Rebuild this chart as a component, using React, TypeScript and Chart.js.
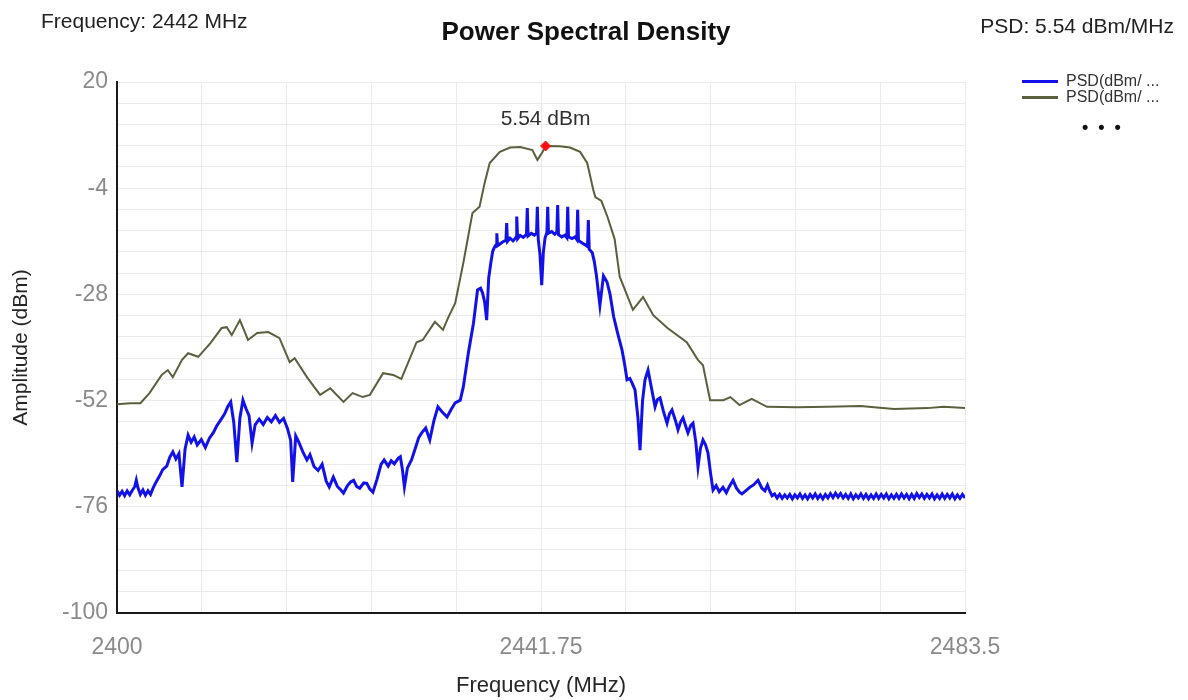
import React, { useEffect, useRef } from 'react';
import { Chart, registerables } from 'chart.js';

Chart.register(...registerables);

// ---- data (frequency MHz, PSD dBm) ----
const olivePsd: [number, number][] = [
  [2400.0, -52.8], [2401.3, -52.6], [2402.3, -52.6], [2403.2, -50.3], [2404.4, -46.2],
  [2405.0, -45.1], [2405.5, -46.7], [2406.4, -42.8], [2407.0, -41.3], [2408.0, -42.1],
  [2409.2, -39.0], [2410.3, -35.6], [2410.8, -35.4], [2411.3, -37.2], [2412.1, -33.8],
  [2412.9, -38.3], [2413.8, -36.7], [2414.9, -36.5], [2416.0, -37.9], [2417.0, -43.3],
  [2417.5, -42.4], [2418.7, -46.7], [2420.0, -50.7], [2421.0, -49.2], [2422.3, -52.3],
  [2423.2, -50.3], [2424.2, -51.2], [2424.9, -50.7], [2426.2, -45.8], [2427.2, -46.2],
  [2428.0, -47.1], [2429.5, -38.8], [2430.1, -38.3], [2431.3, -34.2], [2432.1, -36.0],
  [2432.6, -33.3], [2433.3, -30.0], [2434.1, -20.9], [2435.0, -9.6], [2435.7, -8.2],
  [2436.2, -2.8], [2436.7, 1.7], [2437.7, 4.2], [2438.7, 5.2], [2439.7, 5.3],
  [2440.9, 4.6], [2441.4, 2.4], [2441.9, 4.2], [2442.2, 5.54], [2443.6, 5.5],
  [2444.6, 5.2], [2445.6, 4.2], [2446.3, 1.7], [2446.9, -4.4], [2447.1, -6.0],
  [2447.7, -6.9], [2448.3, -10.5], [2449.0, -15.5], [2449.5, -24.0], [2450.8, -31.5],
  [2451.8, -28.6], [2452.8, -32.7], [2454.2, -35.6], [2456.1, -38.8], [2457.2, -42.8],
  [2457.7, -44.0], [2458.4, -51.9], [2459.7, -51.9], [2460.4, -51.2], [2461.3, -53.0],
  [2462.5, -51.6], [2464.0, -53.4], [2467.0, -53.5], [2470.0, -53.4], [2473.2, -53.2],
  [2476.5, -53.9], [2479.8, -53.7], [2481.4, -53.4], [2483.5, -53.7],
];

const bluePsd: [number, number][] = [
  [2400.0, -72.4], [2400.25, -73.4], [2400.5, -72.5], [2400.75, -73.5], [2401.0, -72.4],
  [2401.25, -73.3], [2401.5, -72.3], [2401.75, -71.4], [2401.9, -70.0], [2402.05, -71.6],
  [2402.3, -73.2], [2402.55, -72.2], [2402.8, -73.4], [2403.05, -72.4], [2403.3, -73.2],
  [2403.55, -71.8], [2403.8, -70.6], [2404.2, -69.0], [2404.5, -67.6], [2404.9, -66.8],
  [2405.2, -64.8], [2405.5, -63.6], [2405.8, -65.2], [2406.1, -64.0], [2406.4, -71.5],
  [2406.7, -63.0], [2407.0, -59.8], [2407.3, -61.4], [2407.6, -60.2], [2407.9, -62.0],
  [2408.3, -60.8], [2408.7, -62.6], [2409.1, -60.5], [2409.5, -59.2], [2409.8, -57.8],
  [2410.2, -56.4], [2410.6, -55.0], [2410.9, -53.4], [2411.2, -52.3], [2411.5, -57.0],
  [2411.8, -65.9], [2412.1, -56.0], [2412.4, -51.9], [2412.7, -53.8], [2413.0, -55.4],
  [2413.3, -61.6], [2413.6, -57.5], [2414.0, -56.2], [2414.4, -57.4], [2414.8, -55.8],
  [2415.2, -56.8], [2415.6, -55.4], [2416.0, -56.9], [2416.4, -56.0], [2416.8, -58.4],
  [2417.1, -61.0], [2417.3, -70.4], [2417.6, -60.0], [2417.9, -61.4], [2418.3, -63.6],
  [2418.7, -65.4], [2419.0, -64.2], [2419.4, -66.9], [2419.8, -67.8], [2420.2, -66.4],
  [2420.6, -70.2], [2420.9, -71.5], [2421.3, -69.3], [2421.7, -71.4], [2422.0, -72.1],
  [2422.3, -72.9], [2422.7, -71.2], [2423.0, -70.4], [2423.3, -70.0], [2423.6, -71.4],
  [2423.9, -71.8], [2424.3, -70.6], [2424.6, -70.7], [2424.9, -72.0], [2425.2, -72.7],
  [2425.6, -69.8], [2426.0, -66.4], [2426.3, -65.4], [2426.7, -66.8], [2427.0, -65.6],
  [2427.3, -66.3], [2427.7, -65.0], [2427.9, -64.7], [2428.1, -67.5], [2428.3, -71.5],
  [2428.6, -67.2], [2429.0, -65.4], [2429.4, -62.6], [2429.7, -60.4], [2430.0, -59.3],
  [2430.4, -58.2], [2430.8, -60.9], [2431.2, -56.6], [2431.6, -53.4], [2432.0, -54.5],
  [2432.5, -55.7], [2432.9, -54.0], [2433.3, -52.5], [2433.8, -51.9], [2434.1, -48.9],
  [2434.6, -41.2], [2435.1, -34.5], [2435.5, -27.0], [2435.8, -26.6], [2436.0, -27.7],
  [2436.2, -29.7], [2436.4, -33.8], [2436.6, -24.3], [2436.8, -21.0], [2437.0, -18.2],
  [2437.2, -17.2], [2437.33, -16.8], [2437.4, -14.2], [2437.47, -17.0], [2437.7, -16.6],
  [2438.0, -16.1], [2438.3, -15.8], [2438.37, -11.9], [2438.45, -16.0], [2438.7, -15.3],
  [2439.0, -15.9], [2439.29, -15.1], [2439.36, -10.4], [2439.45, -15.4], [2439.7, -14.7],
  [2440.0, -15.1], [2440.32, -14.4], [2440.4, -8.5], [2440.48, -14.8], [2440.8, -14.2],
  [2441.1, -14.6], [2441.31, -14.2], [2441.39, -8.2], [2441.48, -15.5], [2441.65, -19.0],
  [2441.82, -25.9], [2441.98, -18.5], [2442.15, -15.2], [2442.33, -14.0], [2442.41, -8.2],
  [2442.49, -14.2], [2442.8, -13.8], [2443.1, -14.4], [2443.31, -13.9], [2443.39, -7.8],
  [2443.47, -14.5], [2443.8, -15.0], [2444.1, -14.6], [2444.3, -15.2], [2444.38, -8.2],
  [2444.46, -15.0], [2444.8, -15.4], [2445.1, -15.0], [2445.28, -15.6], [2445.36, -8.9],
  [2445.44, -15.8], [2445.8, -16.4], [2446.1, -16.8], [2446.33, -17.2], [2446.41, -11.2],
  [2446.5, -17.8], [2446.8, -18.6], [2447.0, -20.6], [2447.2, -23.6], [2447.55, -30.5],
  [2447.9, -23.8], [2448.25, -25.2], [2448.55, -28.0], [2448.9, -33.0], [2449.3, -36.8],
  [2449.73, -40.6], [2450.0, -44.0], [2450.22, -47.3], [2450.5, -47.0], [2450.71, -48.0],
  [2451.01, -49.6], [2451.3, -56.0], [2451.5, -63.2], [2451.75, -52.0], [2451.99, -47.3],
  [2452.29, -45.1], [2452.6, -48.8], [2452.98, -53.4], [2453.2, -51.8], [2453.47, -51.4],
  [2453.8, -54.4], [2454.16, -57.1], [2454.4, -55.0], [2454.65, -54.1], [2455.0, -56.6],
  [2455.24, -58.6], [2455.5, -56.8], [2455.73, -55.9], [2456.0, -57.8], [2456.22, -59.3],
  [2456.5, -57.6], [2456.72, -57.1], [2457.0, -61.5], [2457.21, -67.0], [2457.45, -62.8],
  [2457.7, -60.9], [2457.95, -62.0], [2458.19, -63.8], [2458.45, -68.5], [2458.69, -72.2],
  [2459.0, -71.2], [2459.3, -72.6], [2459.67, -71.6], [2460.0, -72.8], [2460.3, -71.4],
  [2460.66, -70.0], [2461.0, -71.8], [2461.3, -72.7], [2461.54, -73.1], [2461.9, -72.4],
  [2462.3, -71.6], [2462.7, -71.0], [2463.12, -70.0], [2463.5, -71.8], [2463.8, -72.4],
  [2464.05, -71.1], [2464.3, -72.6], [2464.5, -73.5], [2464.75, -73.1], [2465.0, -74.0],
  [2465.25, -73.2], [2465.5, -74.1], [2465.75, -73.3], [2466.0, -74.0], [2466.25, -73.2],
  [2466.5, -74.2], [2466.75, -73.3], [2467.0, -74.0], [2467.25, -73.1], [2467.5, -74.1],
  [2467.75, -73.3], [2468.0, -74.2], [2468.25, -73.2], [2468.5, -74.0], [2468.75, -73.1],
  [2469.0, -74.1], [2469.25, -73.3], [2469.5, -74.2], [2469.75, -73.2], [2470.0, -74.0],
  [2470.25, -73.0], [2470.5, -73.9], [2470.75, -72.9], [2471.0, -73.8], [2471.25, -73.0],
  [2471.5, -74.0], [2471.75, -73.2], [2472.0, -74.1], [2472.25, -73.1], [2472.5, -74.2],
  [2472.75, -73.3], [2473.0, -74.0], [2473.25, -73.1], [2473.5, -74.1], [2473.75, -73.2],
  [2474.0, -74.2], [2474.25, -73.3], [2474.5, -74.1], [2474.75, -73.1], [2475.0, -74.1],
  [2475.25, -73.2], [2475.5, -74.0], [2475.75, -73.1], [2476.0, -74.2], [2476.25, -73.3],
  [2476.5, -74.1], [2476.75, -73.2], [2477.0, -74.1], [2477.25, -73.1], [2477.5, -74.0],
  [2477.75, -73.2], [2478.0, -74.2], [2478.25, -73.2], [2478.5, -74.1], [2478.75, -73.0],
  [2479.0, -73.9], [2479.25, -73.1], [2479.5, -74.1], [2479.75, -73.2], [2480.0, -74.0],
  [2480.25, -73.1], [2480.5, -74.2], [2480.75, -73.3], [2481.0, -74.1], [2481.25, -73.1],
  [2481.5, -74.1], [2481.75, -73.2], [2482.0, -74.0], [2482.25, -73.1], [2482.5, -74.2],
  [2482.75, -73.3], [2483.0, -74.1], [2483.25, -73.2], [2483.5, -74.0],
];

const peakFreq = [2442.2];
const peakDbm = [5.54];
const peakLabel = '5.54 dBm';

const xTickLabels = ['2400', '2441.75', '2483.5'];
const yTickLabels = ['-100', '-76', '-52', '-28', '-4', '20'];
const legendLabels = ['PSD(dBm/ ...', 'PSD(dBm/ ...'];
const headerLeft = 'Frequency: 2442 MHz';
const headerRight = 'PSD: 5.54 dBm/MHz';
const chartTitle = 'Power Spectral Density';

const X_MIN = 2400;
const X_MAX = 2483.5;
const Y_MIN = -100;
const Y_MAX = 20;

const BLUE = 'rgb(18,18,232)';
const OLIVE = '#5a5f3d';
const FONT = '"Liberation Sans", Arial, sans-serif';

const xGrid = Array.from({ length: 11 }, (_, i) => X_MIN + (i * (X_MAX - X_MIN)) / 10);
const yGrid = Array.from({ length: 26 }, (_, i) => Y_MIN + (i * (Y_MAX - Y_MIN)) / 25);

const peakLabelPlugin = {
  id: 'peakLabel',
  afterDatasetsDraw(chart: any) {
    const meta = chart.getDatasetMeta(0);
    const pt = meta && meta.data && meta.data[0];
    if (!pt) return;
    const ctx = chart.ctx;
    ctx.save();
    ctx.font = `21px ${FONT}`;
    ctx.fillStyle = '#303030';
    ctx.textAlign = 'center';
    ctx.textBaseline = 'middle';
    ctx.fillText(peakLabel, pt.x, pt.y - 27);
    ctx.restore();
  },
};

export default function App() {
  const canvasRef = useRef<HTMLCanvasElement | null>(null);

  useEffect(() => {
    if (!canvasRef.current) return;
    const chart = new Chart(canvasRef.current, {
      type: 'line',
      data: {
        datasets: [
          {
            label: 'Peak',
            data: peakFreq.map((f, i) => ({ x: f, y: peakDbm[i] })),
            showLine: false,
            pointStyle: 'rectRot',
            pointRadius: 5,
            pointBackgroundColor: '#ff1010',
            pointBorderColor: '#ff1010',
            borderColor: '#ff1010',
          },
          {
            label: legendLabels[1],
            data: olivePsd.map(([f, v]) => ({ x: f, y: v })),
            borderColor: OLIVE,
            borderWidth: 2,
            pointRadius: 0,
            tension: 0,
            fill: false,
          },
          {
            label: legendLabels[0],
            data: bluePsd.map(([f, v]) => ({ x: f, y: v })),
            borderColor: BLUE,
            borderWidth: 3,
            pointRadius: 0,
            tension: 0,
            fill: false,
          },
        ],
      },
      options: {
        animation: false,
        responsive: false,
        maintainAspectRatio: false,
        devicePixelRatio: 1,
        layout: { padding: { left: 0, right: 223, top: 82, bottom: 0 } },
        plugins: {
          legend: { display: false },
          tooltip: { enabled: false },
          title: { display: false },
        },
        scales: {
          x: {
            type: 'linear',
            min: X_MIN,
            max: X_MAX,
            afterBuildTicks: (scale: any) => {
              scale.ticks = xGrid.map((v) => ({ value: v }));
            },
            afterFit: (scale: any) => {
              scale.height = 87;
            },
            ticks: {
              autoSkip: false,
              maxRotation: 0,
              minRotation: 0,
              padding: 21,
              color: '#8a8a8a',
              font: { family: FONT, size: 23 },
              callback: (_v: any, i: number) => (i % 5 === 0 ? xTickLabels[i / 5] : ''),
            },
            grid: { color: '#ebebeb', lineWidth: 1, drawTicks: false },
            border: { display: true, color: '#1a1a1a', width: 2 },
            title: {
              display: true,
              text: 'Frequency (MHz)',
              color: '#262626',
              font: { family: FONT, size: 22 },
              padding: { top: 0, bottom: 1 },
            },
          },
          y: {
            type: 'linear',
            min: Y_MIN,
            max: Y_MAX,
            afterBuildTicks: (scale: any) => {
              scale.ticks = yGrid.map((v) => ({ value: v }));
            },
            afterFit: (scale: any) => {
              scale.width = 117;
            },
            ticks: {
              autoSkip: false,
              padding: 9,
              color: '#8a8a8a',
              font: { family: FONT, size: 23 },
              callback: (_v: any, i: number) => (i % 5 === 0 ? yTickLabels[i / 5] : ''),
            },
            grid: { color: '#ebebeb', lineWidth: 1, drawTicks: false },
            border: { display: true, color: '#1a1a1a', width: 2 },
            title: {
              display: true,
              text: 'Amplitude (dBm)',
              color: '#262626',
              font: { family: FONT, size: 21 },
              padding: { top: 9, bottom: 0 },
            },
          },
        },
      },
      plugins: [peakLabelPlugin],
    } as any);
    return () => chart.destroy();
  }, []);

  const textBase: React.CSSProperties = {
    position: 'absolute',
    fontFamily: FONT,
    whiteSpace: 'nowrap',
    color: '#222',
  };

  return (
    <div style={{ position: 'absolute', left: 0, top: 0, width: 1188, height: 700, background: '#fff', overflow: 'hidden' }}>
      <canvas ref={canvasRef} width={1188} height={700} style={{ position: 'absolute', left: 0, top: 0, width: 1188, height: 700 }} />
      <div style={{ ...textBase, left: 41, top: 10, fontSize: 21, lineHeight: '21px' }}>{headerLeft}</div>
      <div style={{ ...textBase, left: 0, width: 1172, top: 18, fontSize: 26, lineHeight: '26px', fontWeight: 'bold', textAlign: 'center', color: '#111' }}>{chartTitle}</div>
      <div style={{ ...textBase, right: 14, top: 15, fontSize: 21, lineHeight: '21px' }}>{headerRight}</div>
      {legendLabels.map((lab, i) => (
        <div key={i} style={{ ...textBase, left: 1022, top: 73 + i * 16, height: 16, display: 'flex', alignItems: 'center', fontSize: 16, color: '#333' }}>
          <span style={{ display: 'inline-block', width: 36, height: 3, background: i === 0 ? BLUE : OLIVE, marginRight: 8 }} />
          <span>{lab}</span>
        </div>
      ))}
      <div style={{ ...textBase, left: 1082, top: 118, fontSize: 18, lineHeight: '18px', letterSpacing: 10, fontWeight: 'bold', color: '#111' }}>{'•••'}</div>
    </div>
  );
}
